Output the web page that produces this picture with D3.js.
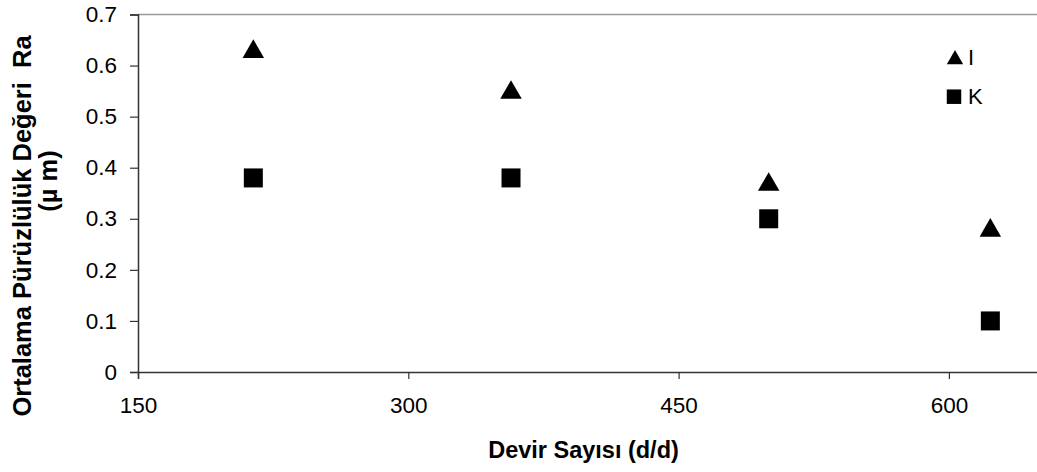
<!DOCTYPE html>
<html><head><meta charset="utf-8">
<script src="https://cdn.jsdelivr.net/npm/d3@7"></script>
<style>html,body{margin:0;padding:0;background:#fff;}svg{display:block;font-family:Arial,"Liberation Sans",sans-serif;}</style>
</head><body>
<svg id="c" width="1037" height="472"></svg>
<script>
const speeds = [214, 357, 500, 623];
const seriesI = [0.63, 0.55, 0.37, 0.28];
const seriesK = [0.38, 0.38, 0.30, 0.10];
const xTicks = [150, 300, 450, 600];
const yTicks = [0, 0.1, 0.2, 0.3, 0.4, 0.5, 0.6, 0.7];
const legendLabels = ["I", "K"];

const svg = d3.select("#c");
const L = 138, R = 1039, T = 14.5, B = 372;
const x = d3.scaleLinear().domain([150, 650]).range([L, R]);
const y = d3.scaleLinear().domain([0, 0.7]).range([B, T]);

// top border
svg.append("line").attr("x1", L).attr("x2", 1037).attr("y1", T).attr("y2", T)
  .attr("stroke", "#999").attr("stroke-width", 1.5);

const yAxis = svg.append("g").attr("transform", `translate(${L},0)`)
  .call(d3.axisLeft(y).tickValues(yTicks).tickSize(8).tickPadding(13)
    .tickFormat(d => d === 0 ? "0" : d3.format(".1f")(d)));
const xAxis = svg.append("g").attr("transform", `translate(0,${B})`)
  .call(d3.axisBottom(x).tickValues(xTicks).tickSize(7).tickPadding(18).tickFormat(d3.format("d")));
[yAxis, xAxis].forEach(g => {
  g.select(".domain").attr("stroke", "#333").attr("stroke-width", 1.5);
  g.selectAll(".tick line").attr("stroke", "#333").attr("stroke-width", 1.2);
  g.selectAll(".tick text").attr("font-size", 22.5).attr("fill", "#000")
    .attr("font-family", "Arial, 'Liberation Sans', sans-serif");
});

const tri = d3.symbol().type(d3.symbolTriangle).size(200);
const sq = d3.symbol().type(d3.symbolSquare).size(361);

svg.append("g").selectAll("path").data(speeds).join("path")
  .attr("d", tri).attr("transform", (d, i) => `translate(${x(d)},${y(seriesI[i]) + 1.5})`)
  .attr("fill", "#000");
svg.append("g").selectAll("path").data(speeds).join("path")
  .attr("d", sq).attr("transform", (d, i) => `translate(${x(d)},${y(seriesK[i])})`)
  .attr("fill", "#000");

// legend
const lg = svg.append("g");
lg.append("path").attr("d", d3.symbol().type(d3.symbolTriangle).size(115))
  .attr("transform", "translate(955,59.5)").attr("fill", "#000");
lg.append("path").attr("d", d3.symbol().type(d3.symbolSquare).size(210))
  .attr("transform", "translate(954,96.7)").attr("fill", "#000");
lg.selectAll("text").data(legendLabels).join("text")
  .attr("x", 968).attr("y", (d, i) => 64.5 + i * 39.5)
  .attr("font-size", 22).text(d => d);

// axis titles
svg.append("text").attr("x", 583.5).attr("y", 458).attr("text-anchor", "middle")
  .attr("font-size", 23.5).attr("font-weight", "bold").text("Devir Sayısı (d/d)");
svg.append("text").attr("transform", "translate(31,226) rotate(-90)").attr("text-anchor", "middle")
  .style("white-space", "pre")
  .attr("font-size", 25.5).attr("font-weight", "bold").text("Ortalama Pürüzlülük Değeri  Ra");
svg.append("text").attr("transform", "translate(57,181) rotate(-90)").attr("text-anchor", "middle")
  .attr("font-size", 25.5).attr("font-weight", "bold").text("(µ m)");
</script>
</body></html>
